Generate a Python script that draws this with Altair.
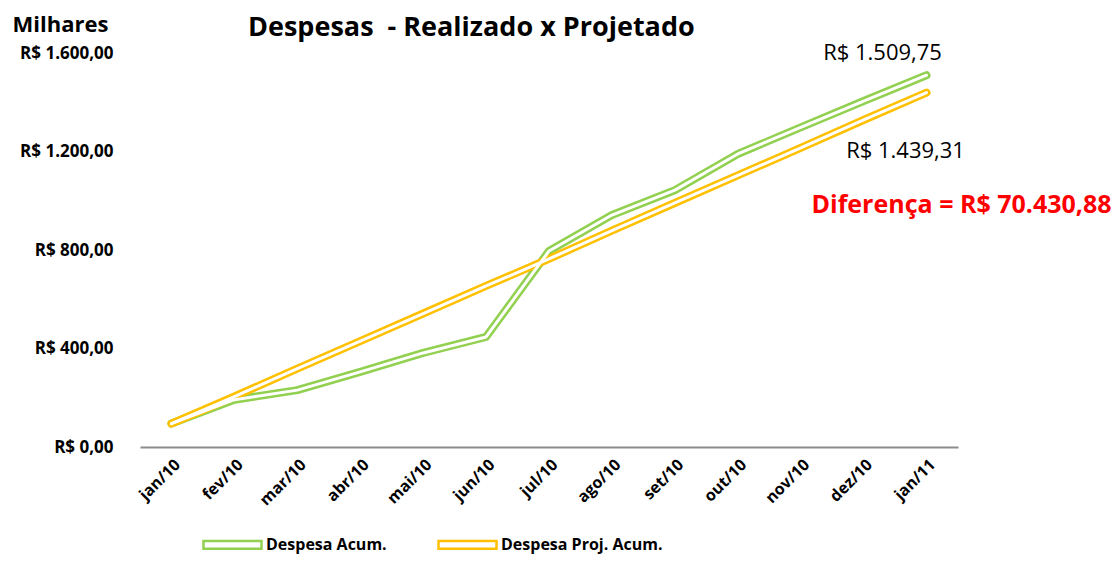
import altair as alt
import pandas as pd

months = ["jan/10", "fev/10", "mar/10", "abr/10", "mai/10", "jun/10", "jul/10",
          "ago/10", "set/10", "out/10", "nov/10", "dez/10", "jan/11"]
realizado = [95, 192, 231, 305, 382, 447, 796, 942, 1043, 1190, 1298, 1405, 1509.75]
projetado = [95, 205, 318, 430, 542, 654, 764, 879, 991, 1103, 1215, 1328, 1439.31]
series_names = ["Despesa Acum.", "Despesa Proj. Acum."]
colors = ["#92D050", "#FFC000"]

rows = []
for m, r, p in zip(months, realizado, projetado):
    rows.append({"mes": m, "serie": series_names[0], "valor": r})
    rows.append({"mes": m, "serie": series_names[1], "valor": p})
df = pd.DataFrame(rows)

FONT = "Open Sans"
LBL = 16

x_enc = alt.X("mes:N", sort=months, scale=alt.Scale(type="point", padding=0.5),
              axis=alt.Axis(title=None, labelAngle=-45, labelFontWeight="bold",
                            labelFontSize=LBL, labelFont=FONT, labelColor="#000000",
                            ticks=False, domainColor="#8c8c8c", domainWidth=2,
                            labelPadding=9, labelAlign="right", labelBaseline="top"))
y_enc = alt.Y("valor:Q", scale=alt.Scale(domain=[0, 1600], nice=False),
              axis=alt.Axis(title="Milhares", titleAngle=0, titleX=-128, titleY=-22,
                            titleAlign="left", titleBaseline="alphabetic",
                            titleFontSize=22, titleFont=FONT, titleFontWeight="bold",
                            titleColor="#000000",
                            values=[0, 400, 800, 1200, 1600], grid=False, domain=False,
                            ticks=False, labelPadding=27, labelFont=FONT,
                            labelFontSize=17, labelFontWeight="bold", labelColor="#000000",
                            labelExpr="'R$ ' + replace(replace(replace(format(datum.value, ',.2f'), ',', '#'), '.', ','), '#', '.')"))
color_enc = alt.Color("serie:N", sort=series_names,
                      scale=alt.Scale(domain=series_names, range=colors),
                      legend=alt.Legend(title=None, orient="none", direction="horizontal",
                                        legendX=62, legendY=461, padding=0,
                                        symbolType="M-1,-0.13 L1,-0.13 L1,0.13 L-1,0.13 Z",
                                        symbolSize=3364, symbolStrokeWidth=2.5,
                                        labelFont=FONT, labelFontSize=LBL,
                                        labelFontWeight="bold", labelColor="#000000",
                                        labelOffset=3, columnPadding=46, labelLimit=300))

base = alt.Chart(df)
outer = base.mark_line(strokeWidth=8, strokeCap="round", strokeJoin="round").encode(
    x=x_enc, y=y_enc, color=color_enc)
inner = base.mark_line(strokeWidth=3, color="white", strokeCap="round",
                       strokeJoin="round").encode(
    x=alt.X("mes:N", sort=months), y="valor:Q", detail="serie:N")

ann_df = pd.DataFrame({
    "mes": ["jan/11", "jan/11", "jan/11"],
    "valor": [1509.75, 1439.31, 1439.31],
    "txt": ["R$ 1.509,75", "R$ 1.439,31", "Diferença = R$ 70.430,88"],
    "kind": ["a", "b", "c"],
})
ann_a = alt.Chart(ann_df[ann_df.kind == "a"]).mark_text(
    font=FONT, fontSize=22, color="#000000", dx=-44, dy=-22).encode(
    x=alt.X("mes:N", sort=months), y="valor:Q", text="txt:N")
ann_b = alt.Chart(ann_df[ann_df.kind == "b"]).mark_text(
    font=FONT, fontSize=22, color="#000000", dx=-21, dy=58).encode(
    x=alt.X("mes:N", sort=months), y="valor:Q", text="txt:N")
ann_c = alt.Chart(ann_df[ann_df.kind == "c"]).mark_text(
    font=FONT, fontSize=25, fontWeight="bold", color="#FF0000", dx=35, dy=112).encode(
    x=alt.X("mes:N", sort=months), y="valor:Q", text="txt:N")

chart = alt.layer(outer, inner, ann_a, ann_b, ann_c).properties(
    width=818, height=394,
    autosize=alt.AutoSizeParams(type="none"),
    padding={"left": 132, "top": 45, "right": 153, "bottom": 107},
    title=alt.TitleParams("Despesas\u00a0 - Realizado x Projetado", anchor="start",
                          frame="group", dx=108, offset=-29, fontSize=27, font=FONT,
                          fontWeight="bold", color="#000000"),
).configure(background="white").configure_view(stroke=None)

chart.save("out.html", embed_options={"renderer": "svg", "actions": False})
